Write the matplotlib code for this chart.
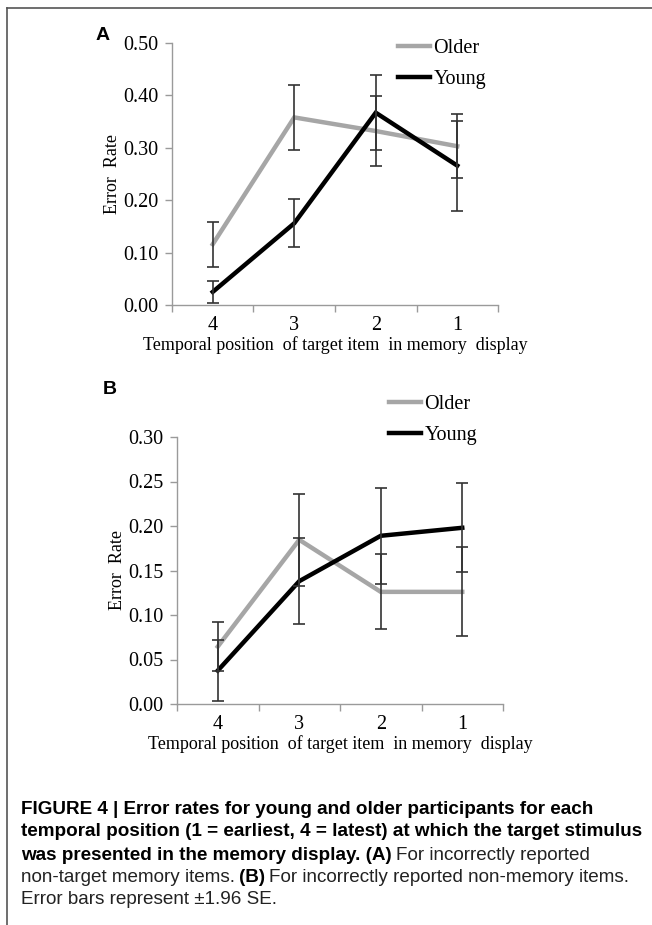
import matplotlib
matplotlib.use("Agg")
import matplotlib.pyplot as plt
import numpy as np

categories = ["4", "3", "2", "1"]

a_older = [0.116, 0.358, 0.332, 0.303]
a_older_err = [0.043, 0.062, 0.066, 0.061]
a_young = [0.025, 0.156, 0.367, 0.266]
a_young_err = [0.021, 0.046, 0.072, 0.086]

b_older = [0.0645, 0.1845, 0.126, 0.126]
b_older_err = [0.0275, 0.052, 0.042, 0.050]
b_young = [0.0375, 0.138, 0.189, 0.198]
b_young_err = [0.034, 0.048, 0.054, 0.050]

a_yticks = [0.0, 0.1, 0.2, 0.3, 0.4, 0.5]
b_yticks = [0.0, 0.05, 0.10, 0.15, 0.20, 0.25, 0.30]

xlabel = "Temporal position  of target item  in memory  display"
ylabel = "Error  Rate"

W, H = 652, 925
fig = plt.figure(figsize=(W / 100, H / 100), dpi=100)

serif = "Liberation Serif"
GRAY = "#a6a6a6"
AXC = "#9a9a9a"
TS = 14.5

def panel(rect, older, oerr, young, yerr, yticks, ylim, leg_xy):
    ax = fig.add_axes(rect)
    x = np.arange(len(categories))
    ax.plot(x, older, color=GRAY, lw=3.2, solid_joinstyle="miter", zorder=3, label="Older")
    ax.plot(x, young, color="black", lw=3.2, solid_joinstyle="miter", zorder=4, label="Young")
    ax.errorbar(x, older, yerr=oerr, fmt="none", ecolor="#333333", elinewidth=1.2,
                capsize=4, capthick=1.2, zorder=5)
    ax.errorbar(x, young, yerr=yerr, fmt="none", ecolor="#333333", elinewidth=1.2,
                capsize=4, capthick=1.2, zorder=5)
    ax.set_xlim(-0.5, len(categories) - 0.5)
    ax.set_ylim(*ylim)
    ax.set_yticks(yticks)
    ax.set_yticklabels([f"{v:.2f}" for v in yticks], fontfamily=serif, fontsize=TS)
    ax.set_xticks(np.arange(len(categories) + 1) - 0.5)
    ax.set_xticklabels([])
    ax.set_xticks(x, minor=True)
    ax.set_xticklabels(categories, minor=True, fontfamily=serif, fontsize=TS)
    ax.tick_params(axis="x", which="minor", length=0, pad=8)
    ax.tick_params(axis="x", which="major", length=5, color=AXC, width=1)
    ax.tick_params(axis="y", length=5, color=AXC, width=1, pad=5)
    for s in ["top", "right"]:
        ax.spines[s].set_visible(False)
    for s in ["left", "bottom"]:
        ax.spines[s].set_color(AXC)
        ax.spines[s].set_linewidth(1)
    ax.set_xlabel(xlabel, fontfamily=serif, fontsize=13, labelpad=1)
    ax.set_ylabel(ylabel, fontfamily=serif, fontsize=13, labelpad=1)
    ax.legend(loc="upper left", bbox_to_anchor=leg_xy, bbox_transform=fig.transFigure,
              frameon=False, prop={"family": serif, "size": 14.5}, handlelength=1.6,
              handletextpad=0.15, labelspacing=0.6, borderaxespad=0, borderpad=0)
    return ax

axA = panel([172 / W, 1 - 305 / H, 326 / W, 262 / H], a_older, a_older_err, a_young, a_young_err,
            a_yticks, (0, 0.5), (398 / W, 1 - 39 / H))
axB = panel([177 / W, 1 - 704 / H, 326 / W, 267 / H], b_older, b_older_err, b_young, b_young_err,
            b_yticks, (0, 0.3), (389 / W, 1 - 395 / H))

fig.text(103 / W, 1 - 35 / H, "A", fontsize=14, fontweight="bold", fontfamily="Liberation Sans",
         ha="center", va="center")
fig.text(110 / W, 1 - 390 / H, "B", fontsize=14, fontweight="bold", fontfamily="Liberation Sans",
         ha="center", va="center")

cap_font = "Liberation Sans"
cs = 13.6
ys = [809, 832, 855, 878, 900]
fig.text(21 / W, 1 - ys[0] / H, "FIGURE 4 | Error rates for young and older participants for each",
         fontsize=cs, fontweight="bold", fontfamily=cap_font, va="center")
fig.text(21 / W, 1 - ys[1] / H, "temporal position (1 = earliest, 4 = latest) at which the target stimulus",
         fontsize=cs, fontweight="bold", fontfamily=cap_font, va="center")
t1 = fig.text(21 / W, 1 - ys[2] / H, "was presented in the memory display. (A)",
              fontsize=cs, fontweight="bold", fontfamily=cap_font, va="center")
fig.canvas.draw()
r = fig.canvas.get_renderer()
bb = t1.get_window_extent(r)
fig.text((bb.x1 + 4) / W, 1 - ys[2] / H, "For incorrectly reported",
         fontsize=cs, fontfamily=cap_font, va="center", color="#222222")
t2 = fig.text(21 / W, 1 - ys[3] / H, "non-target memory items.",
              fontsize=cs, fontfamily=cap_font, va="center", color="#222222")
bb = t2.get_window_extent(r)
t3 = fig.text((bb.x1 + 4) / W, 1 - ys[3] / H, "(B)",
              fontsize=cs, fontweight="bold", fontfamily=cap_font, va="center")
bb = t3.get_window_extent(r)
fig.text((bb.x1 + 4) / W, 1 - ys[3] / H, "For incorrectly reported non-memory items.",
         fontsize=cs, fontfamily=cap_font, va="center", color="#222222")
fig.text(21 / W, 1 - ys[4] / H, "Error bars represent \u00b11.96 SE.",
         fontsize=cs, fontfamily=cap_font, va="center", color="#222222")

# frame lines
fig.add_artist(plt.Line2D([6.5 / W, 6.5 / W], [0, 1 - 7.5 / H], color="#555555", lw=1.2,
                          transform=fig.transFigure))
fig.add_artist(plt.Line2D([6.5 / W, 1], [1 - 7.5 / H, 1 - 7.5 / H], color="#555555", lw=1.2,
                          transform=fig.transFigure))

fig.savefig("out.png", dpi=100)
